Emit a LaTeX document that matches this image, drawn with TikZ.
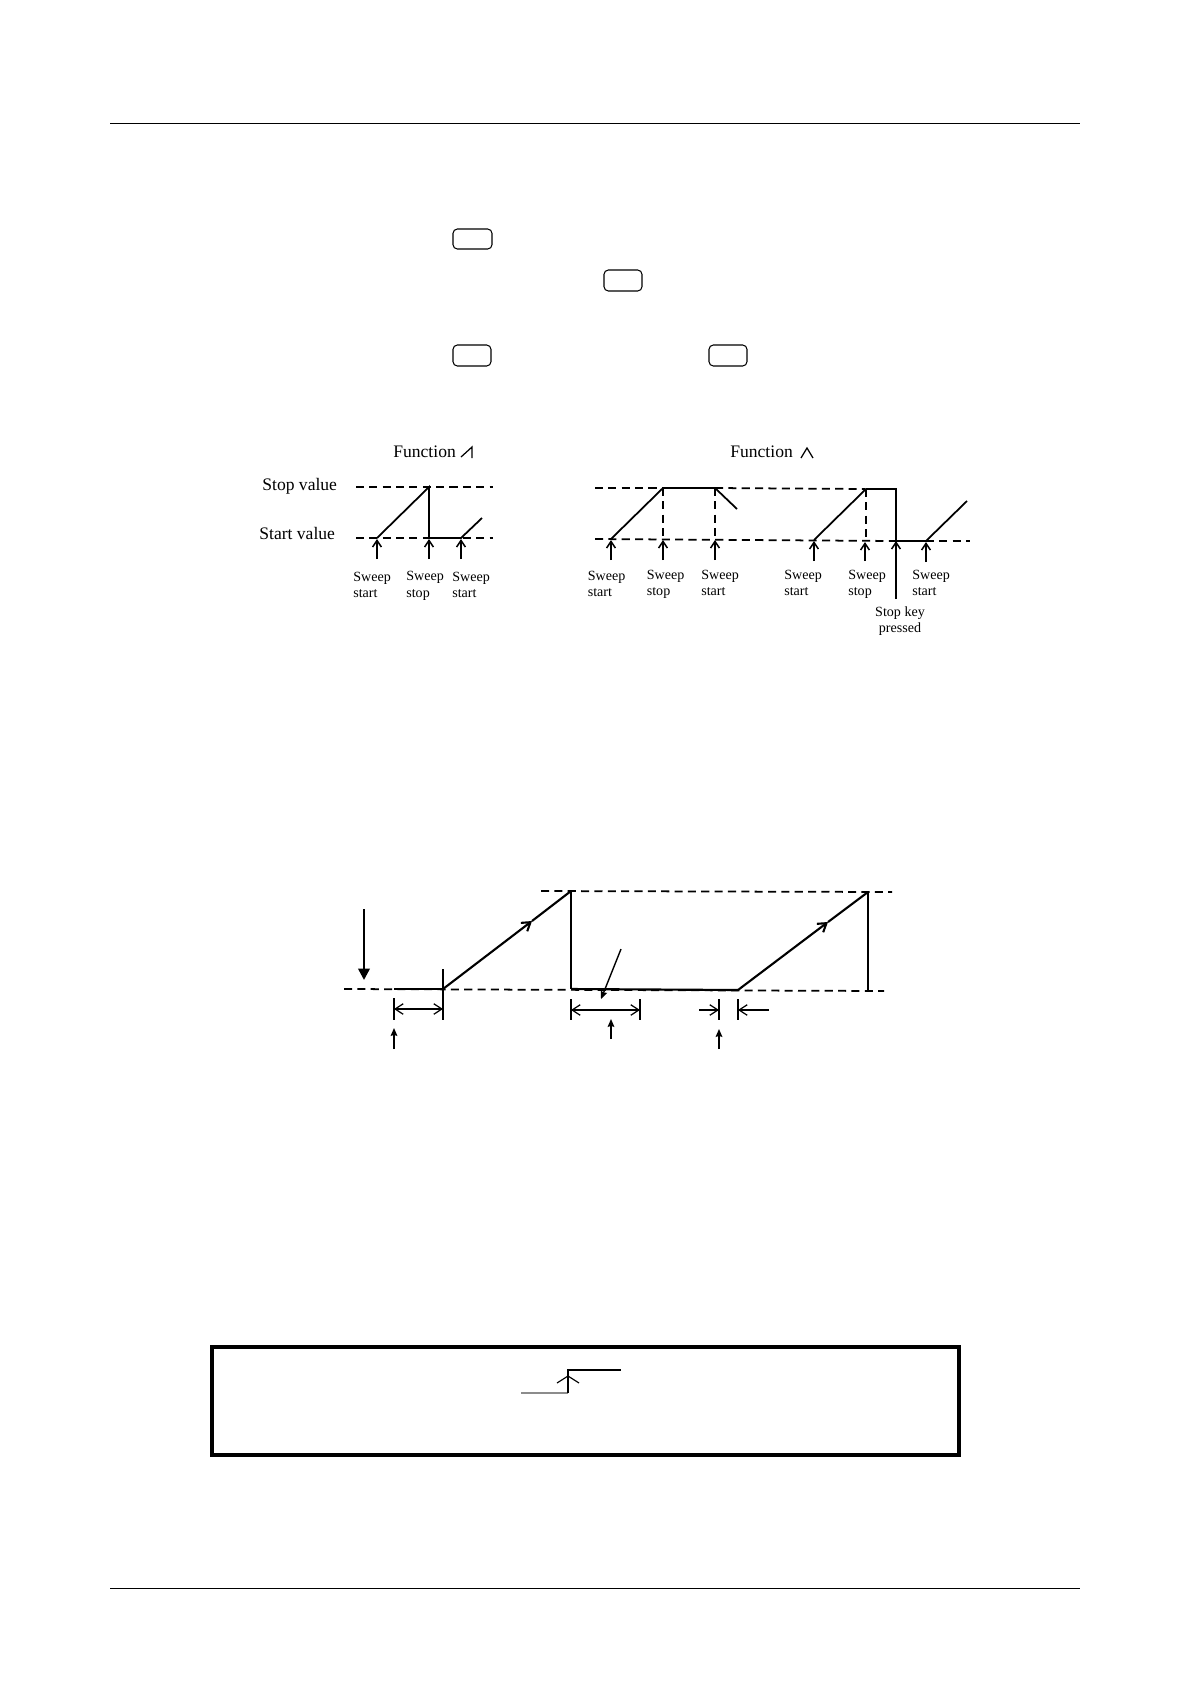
\documentclass[tikz,border=0pt]{standalone}
\usepackage{fontspec}
\setmainfont{Liberation Serif}
\usetikzlibrary{arrows.meta}
\tikzset{
  curve/.style={line width=1pt},
  guide/.style={line width=1pt, dash pattern=on 4.6pt off 3pt},
  tick/.style={line width=0.7pt},
  upmark/.style={line width=0.85pt, -{Straight Barb[length=3.8pt,width=5pt]}},
  openmark/.style={-{Straight Barb[length=4.6pt,width=6pt]}},
  solidup/.style={line width=0.8pt, -{Stealth[length=4.5pt,width=3.8pt,inset=0.6pt]}},
  keybox/.style={draw, line width=0.6pt, rounded corners=2.5pt},
  bigtext/.style={inner sep=0pt, font=\fontsize{10}{12}\selectfont},
  smalltext/.style={inner sep=0pt, anchor=west, align=left, font=\fontsize{8}{9.4}\selectfont}
}
\begin{document}
\begin{tikzpicture}[x=0.02cm, y=-0.02cm]
    \useasboundingbox (0,0) rectangle (1190,1684);

    % Page rules
    \draw[line width=0.6pt] (110,123.5) -- (1080,123.5);
    \draw[line width=0.6pt] (110,1588.5) -- (1080,1588.5);

    % Key boxes
    \draw[keybox] (453,229) rectangle (492,249);
    \draw[keybox] (604,270) rectangle (642,291);
    \draw[keybox] (453,345) rectangle (491,366);
    \draw[keybox] (709,345) rectangle (747,366);

    % Left graph
    \node[bigtext, anchor=west] (funcsaw) at (393,452) {Function};
    \draw[line width=0.7pt] (461,457) -- (472,447) -- (472,458);
    \node[bigtext, anchor=west] (stopval) at (262,486) {Stop value};
    \node[bigtext, anchor=west] (startval) at (259,533) {Start value};

    \draw[guide] (356,487) -- (493,487);
    \draw[guide] (356,538) -- (493,538);
    \draw[curve] (377,538) -- (429,487) -- (429,538) -- (461,538) -- (482,518);
    \draw[upmark] (377,559) -- (377,539);
    \draw[upmark] (429,559) -- (429,539);
    \draw[upmark] (461,559) -- (461,539);

    \node[smalltext] (lstart) at (353,585) {Sweep\\start};
    \node[smalltext] (lstop) at (406,586) {Sweep\\stop};
    \node[smalltext] (lagain) at (452,585) {Sweep\\start};

    % Right graph
    \node[bigtext, anchor=west] (functri) at (730,452) {Function};
    \draw[line width=0.7pt] (801,458) -- (807,448) -- (813,458);

    \draw[guide] (595,488) -- (663,488);
    \draw[guide] (715,488) -- (865,489);
    \draw[guide] (595,539) -- (896,541);
    \draw[guide] (926,541) -- (970,541);
    \draw[guide] (663,488) -- (663,539);
    \draw[guide] (715,488) -- (715,539);
    \draw[guide] (866,489) -- (866,541);
    \draw[curve] (611,539) -- (663,488) -- (715,488) -- (737,509);
    \draw[curve] (814,540) -- (866,489) -- (896,489) -- (896,541) -- (926,541) -- (967,501);
    \draw[upmark] (611,560) -- (611,540);
    \draw[upmark] (663,560) -- (663,540);
    \draw[upmark] (715,560) -- (715,540);
    \draw[upmark] (814,561) -- (814,541);
    \draw[upmark] (865,561) -- (865,542);
    \draw[upmark] (926,562) -- (926,542);
    \draw[upmark] (896,599) -- (896,541);

    \node[smalltext] (rstarta) at (587.5,584) {Sweep\\start};
    \node[smalltext] (rstopa) at (646.5,584.5) {Sweep\\stop};
    \node[smalltext] (rstartb) at (701,583) {Sweep\\start};
    \node[smalltext] (rstartc) at (784,583) {Sweep\\start};
    \node[smalltext] (rstopb) at (848,584.5) {Sweep\\stop};
    \node[smalltext] (rstartd) at (912,583) {Sweep\\start};
    \node[smalltext, anchor=center, align=center] (stopkey) at (900,621) {Stop key\\pressed};

    % Middle graph
    \draw[guide] (541,891) -- (892,892);
    \draw[guide] (344,989) -- (884,991);
    \draw[line width=1.2pt] (394,989) -- (443,989);
    \draw[line width=1.2pt] (571,989) -- (738,990);
    \draw[openmark, line width=1.2pt] (443,989) -- (532,921);
    \draw[line width=1.2pt] (532,921) -- (571,891);
    \draw[openmark, line width=1.2pt] (738,990) -- (828,922);
    \draw[line width=1.2pt] (828,922) -- (868,892);
    \draw[tick] (571,891) -- (571,989);
    \draw[tick] (868,892) -- (868,991);

    % Big arrow on the left
    \draw[line width=1.4pt, -{Stealth[length=6.5pt,width=6.5pt,inset=0pt]}] (364,909) -- (364,980);

    % Dimension marks
    \draw[tick] (394,998) -- (394,1020);
    \draw[tick] (443,969) -- (443,1020);
    \draw[tick] (571,999) -- (571,1020);
    \draw[tick] (640,999) -- (640,1020);
    \draw[tick] (719,999) -- (719,1020);
    \draw[tick] (738,999) -- (738,1020);
    \draw[line width=0.7pt, {Straight Barb[length=4.6pt,width=6pt]}-{Straight Barb[length=4.6pt,width=6pt]}] (394,1009) -- (443,1009);
    \draw[line width=0.7pt, {Straight Barb[length=4.6pt,width=6pt]}-{Straight Barb[length=4.6pt,width=6pt]}] (571,1010) -- (640,1010);
    \draw[openmark, line width=0.7pt] (699,1010) -- (719,1010);
    \draw[openmark, line width=0.7pt] (769,1010) -- (738,1010);
    \draw[solidup] (394,1049) -- (394,1028);
    \draw[solidup] (611,1039) -- (611,1019);
    \draw[solidup] (719,1049) -- (719,1029);
    \draw[solidup] (621,949) -- (601,999);

    % Note box
    \draw[line width=2pt] (212,1347) rectangle (959,1455);
    \draw[line width=0.9pt, black!45] (521,1393) -- (568,1393);
    \draw[line width=0.65pt] (568,1393) -- (568,1370) -- (621,1370);
    \draw[line width=0.65pt] (557,1383) -- (568,1376) -- (579,1383);
\end{tikzpicture}
\end{document}
